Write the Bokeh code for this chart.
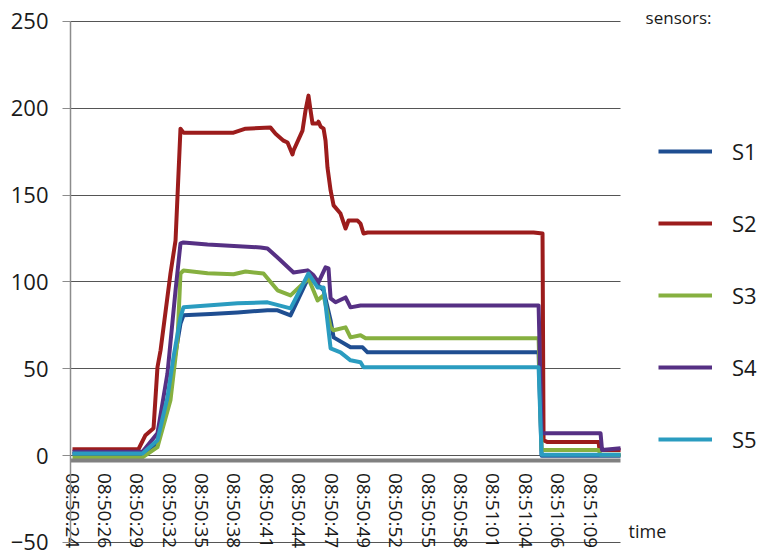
import numpy as np
from bokeh.plotting import figure
from bokeh.models import Range1d, FixedTicker, Legend, LegendItem, Label
from bokeh.embed import file_html
from bokeh.resources import INLINE

# ---- data (seconds after 08:50:24, sensor reading) ----
tick_labels = ["08:50:24", "08:50:26", "08:50:29", "08:50:32", "08:50:35", "08:50:38",
               "08:50:41", "08:50:44", "08:50:47", "08:50:49", "08:50:52", "08:50:55",
               "08:50:58", "08:51:01", "08:51:04", "08:51:06", "08:51:09"]
label_step = 45 / 16  # seconds between labelled categories
t_end = 47.61

s1_t = [0, 6.08, 7.38, 8.25, 8.77, 9.38, 9.64, 12.0, 14.34, 16.94, 17.81, 18.94, 20.5, 21.55,
        21.81, 22.42, 22.68, 24.15, 25.2, 25.63, 40.49, 40.75, 47.61]
s1_v = [1, 1, 7, 30, 52, 76, 80.8, 81.5, 82.5, 83.7, 83.7, 80.8, 102.6, 96.9,
        95.2, 77.9, 68.1, 62.4, 62.4, 59.5, 59.5, 0, 0]

s2_t = [0, 5.73, 6.34, 7.04, 7.38, 7.65, 8.51, 8.95, 9.38, 9.64, 13.99, 15.03, 17.2, 17.64,
        18.33, 18.68, 19.11, 19.2, 19.98, 20.24, 20.5, 20.68, 20.85, 21.29, 21.37, 21.55,
        21.81, 21.98, 22.15, 22.42, 22.68, 23.28, 23.72, 23.98, 24.76, 25.02, 25.28, 25.63,
        40.05, 40.83, 40.92, 41.27, 45.7, 45.78, 47.61]
s2_v = [3.7, 3.7, 11.8, 15.8, 50.9, 60.7, 104.9, 123.9, 188.3, 186, 186, 188.3, 188.9, 185.4,
        181.4, 180.3, 173.4, 175.7, 187.2, 198.7, 207.3, 198.7, 191.2, 191.2, 192.3, 189.5,
        188.3, 181.4, 165.9, 152.7, 144.1, 139.4, 130.8, 135.4, 135.4, 133.6, 127.9, 128.5,
        128.5, 127.9, 8.9, 7.8, 7.8, 3.2, 3.2]

s3_t = [0, 6.08, 7.38, 8.51, 9.12, 9.38, 9.64, 11.73, 13.99, 15.03, 16.59, 17.81, 18.94,
        20.5, 21.29, 21.81, 22.42, 22.68, 23.72, 24.15, 25.02, 25.46, 40.49, 40.75, 45.7,
        45.87, 47.61]
s3_v = [-1, -1, 4.9, 31.9, 66.4, 104.9, 106.6, 105, 104.5, 106, 104.9, 95.2, 92.3,
        102, 89.4, 92.3, 73.9, 72.2, 73.9, 68.1, 69.3, 67.6, 67.6, 3.2, 3.2,
        0.5, 0.5]

s4_t = [0, 6.08, 7.38, 8.25, 8.95, 9.38, 9.64, 11.73, 16.33, 16.94, 17.81, 19.2, 20.42,
        20.94, 21.37, 21.98, 22.24, 22.42, 22.85, 23.72, 24.15, 25.02, 40.49, 40.75, 45.87,
        46.0, 47.61]
s4_v = [2.2, 2.2, 12.9, 47.4, 95.2, 122.2, 122.8, 121.6, 119.9, 119.3, 114.1, 105.5, 106.7,
        103.8, 99.8, 108.4, 107.8, 90.6, 88.3, 91.1, 85.4, 86.5, 86.5, 12.9, 12.9,
        3.2, 4.3]

s5_t = [0, 6.08, 7.38, 8.25, 8.77, 9.38, 9.64, 14.34, 16.94, 18.94, 20.5, 21.29, 21.81,
        22.42, 23.28, 24.15, 25.02, 25.28, 40.49, 40.75, 47.61]
s5_v = [1.3, 1.3, 8.9, 33.6, 56.6, 79.6, 85.4, 87.7, 88.3, 84.8, 104.9, 96.9, 96.9,
        61.8, 59.5, 54.9, 53.8, 50.9, 50.9, 0.5, 0.5]

series = [("S1", s1_t, s1_v, "#1f4e91"),
          ("S2", s2_t, s2_v, "#9c1c1c"),
          ("S3", s3_t, s3_v, "#86b040"),
          ("S4", s4_t, s4_v, "#563084"),
          ("S5", s5_t, s5_v, "#2a9cc0")]

FONT = "Open Sans"
X0 = -0.174

p = figure(width=768, height=555, output_backend="svg", toolbar_location=None,
           x_range=Range1d(-6.255, 60.46), y_range=Range1d(-57.49, 262.09),
           min_border_left=0, min_border_right=0, min_border_top=0, min_border_bottom=0)
p.outline_line_color = None
p.background_fill_color = "white"

# grid
p.xgrid.grid_line_color = None
p.ygrid.grid_line_color = "#555555"
p.ygrid.grid_line_width = 1
p.ygrid.cross_bounds = (X0, t_end)

# y axis
p.yaxis.ticker = FixedTicker(ticks=[-50, 0, 50, 100, 150, 200, 250])
p.yaxis.fixed_location = X0
p.yaxis.bounds = (-50, 250)
p.yaxis.axis_line_color = "#8c8c8c"
p.yaxis.axis_line_width = 1.5
p.yaxis.major_tick_line_color = "#8c8c8c"
p.yaxis.major_tick_out = 8
p.yaxis.major_tick_in = 0
p.yaxis.minor_tick_line_color = None
p.yaxis.major_label_standoff = 14
p.yaxis.major_label_text_font = FONT
p.yaxis.major_label_text_font_size = "22px"
p.yaxis.major_label_text_color = "#1a1a1a"

# x axis
ticks = [i * label_step for i in range(len(tick_labels))]
p.xaxis.ticker = FixedTicker(ticks=ticks)
p.xaxis.major_label_overrides = {t: lab for t, lab in zip(ticks, tick_labels)}
p.xaxis.fixed_location = -2.5
p.xaxis.bounds = (X0, t_end)
p.xaxis.axis_line_color = "#808080"
p.xaxis.axis_line_width = 4
p.xaxis.major_tick_line_color = None
p.xaxis.minor_tick_line_color = None
p.xaxis.major_label_orientation = "vertical"
p.xaxis.major_label_standoff = 7
p.xaxis.major_label_text_font = FONT
p.xaxis.major_label_text_font_size = "19px"
p.xaxis.major_label_text_color = "#1a1a1a"

items = []
for name, t, v, c in series:
    r = p.line(t, v, line_width=4, line_color=c, line_join="round")
    items.append(LegendItem(label=name, renderers=[r]))

legend = Legend(items=items, location=(658, 101), padding=0, margin=0, spacing=42,
                glyph_width=54, glyph_height=30, label_height=30, label_standoff=20,
                label_text_font=FONT, label_text_font_size="22px",
                label_text_color="#1a1a1a", border_line_color=None,
                background_fill_alpha=0)
p.add_layout(legend)

p.add_layout(Label(x=49.78, y=252.3, text="sensors:", text_font=FONT,
                   text_font_size="17px", text_baseline="middle", text_color="#1a1a1a"))
p.add_layout(Label(x=48.3, y=-43.1, text="time", text_font=FONT,
                   text_font_size="18px", text_baseline="middle", text_color="#1a1a1a"))

open("out.html", "w").write(file_html(p, INLINE))
